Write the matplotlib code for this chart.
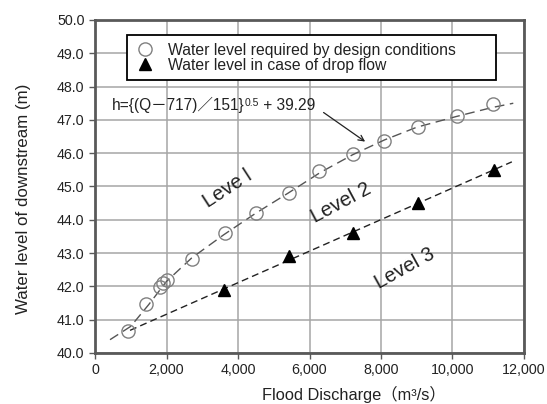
import matplotlib
matplotlib.use("Agg")
import matplotlib.pyplot as plt
from matplotlib.ticker import FuncFormatter
from matplotlib.patches import Rectangle

plt.rcParams['font.family'] = ['Liberation Sans', 'Noto Sans CJK JP', 'DejaVu Sans']

# Data
q_design = [920, 1430, 1820, 1900, 2010, 2710, 3640, 4500, 5430, 6270, 7220, 8080, 9030, 10130, 11130]
h_design = [40.65, 41.47, 41.98, 42.1, 42.2, 42.83, 43.6, 44.2, 44.8, 45.47, 45.98, 46.37, 46.8, 47.13, 47.48]

q_drop = [3610, 5430, 7220, 9030, 11160]
h_drop = [41.9, 42.9, 43.6, 44.5, 45.5]

# dashed trend lines
q_trend1 = [420, 1000, 1500, 2000, 2700, 3600, 4500, 5400, 6300, 7200, 8100, 9000, 10100, 11100, 11700]
h_trend1 = [40.4, 40.8, 41.45, 42.15, 42.85, 43.55, 44.2, 44.8, 45.42, 45.95, 46.4, 46.78, 47.1, 47.37, 47.5]
q_trend2 = [980, 11660]
h_trend2 = [40.68, 45.74]

xticks = [0, 2000, 4000, 6000, 8000, 10000, 12000]
yticks = [40.0, 41.0, 42.0, 43.0, 44.0, 45.0, 46.0, 47.0, 48.0, 49.0, 50.0]

fig = plt.figure(figsize=(5.47, 4.04), dpi=100)
ax = fig.add_axes([95/547, 51/404, 429/547, 333/404])

ax.plot(q_trend1, h_trend1, color='#555555', lw=1.0, ls=(0, (7, 4)), zorder=2)
ax.plot(q_trend2, h_trend2, color='#222222', lw=1.0, ls=(0, (5, 3)), zorder=2)
ax.plot(q_design, h_design, ls='none', marker='o', ms=9.5, mfc='none', mec='#808080', mew=1.0,
        label='Water level required by design conditions', zorder=3)
ax.plot(q_drop, h_drop, ls='none', marker='^', ms=8, mfc='black', mec='black',
        label='Water level in case of drop flow', zorder=3)

ax.set_xlim(0, 12000)
ax.set_ylim(40, 50)
ax.set_xticks(xticks)
ax.set_yticks(yticks)
ax.xaxis.set_major_formatter(FuncFormatter(lambda v, p: f"{int(v):,}"))
ax.yaxis.set_major_formatter(FuncFormatter(lambda v, p: f"{v:.1f}"))
ax.grid(True, color='#a6a6a6', lw=1.1)
ax.set_axisbelow(True)
for s in ax.spines.values():
    s.set_color('#595959')
    s.set_linewidth(2.0)
ax.tick_params(direction='out', length=4, width=1, color='#595959', labelsize=10.3, labelcolor='#222222')

ax.set_xlabel('Flood Discharge（m³/s）', fontsize=11.8, color='#222222')
ax.xaxis.set_label_coords(0.604, -0.100)
ax.set_ylabel('Water level of downstream (m)', fontsize=12.2, color='#222222')
ax.yaxis.set_label_coords(-0.150, 0.4625)

# legend box
ax.add_patch(Rectangle((0.0746, 0.8198), 0.935 - 0.0746, 0.955 - 0.8198, transform=ax.transAxes,
                       facecolor='white', edgecolor='black', lw=1.3, zorder=4))
leg = ax.legend(loc='upper left', bbox_to_anchor=(0.098, 0.932), fontsize=11.3, frameon=False,
                handlelength=1.0, handletextpad=1.0, labelspacing=0.0, borderpad=0, borderaxespad=0)
leg.set_zorder(5)
for t in leg.get_texts():
    t.set_color('#222222')

t1 = ax.text(470, 47.45, 'h={(Q－717)／151}', fontsize=11.2, va='center', ha='left', color='#222222')
t2 = ax.annotate('0.5', xy=(1, 0.95), xycoords=t1, fontsize=7.5, ha='left', va='top', color='#222222')
t3 = ax.annotate(' + 39.29', xy=(1, 0), xycoords=(t2, t1), fontsize=11.2, ha='left', va='bottom', color='#222222')

ax.annotate('', xy=(7620, 46.3), xytext=(6330, 47.27),
            arrowprops=dict(arrowstyle='->', color='#222222', lw=0.9))

ax.text(3720, 44.93, 'Leve l', fontsize=14.5, rotation=33, ha='center', va='center', color='#222222')
ax.text(6880, 44.5, 'Level 2', fontsize=14.5, rotation=28, ha='center', va='center', color='#222222')
ax.text(8670, 42.55, 'Level 3', fontsize=14.5, rotation=29, ha='center', va='center', color='#222222')

fig.savefig('out.png', dpi=100)
